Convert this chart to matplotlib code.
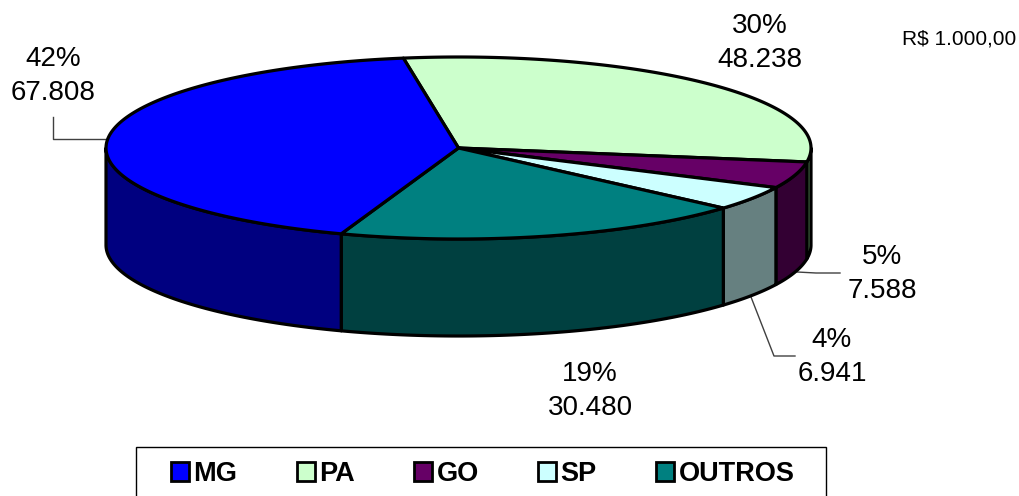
import numpy as np
import matplotlib
matplotlib.use("Agg")
import matplotlib.pyplot as plt
from matplotlib.patches import Polygon, Patch, Rectangle

categories = ["MG", "PA", "GO", "SP", "OUTROS"]
values = [67808, 48238, 7588, 6941, 30480]
percent_labels = ["42%", "30%", "5%", "4%", "19%"]
value_labels = ["67.808", "48.238", "7.588", "6.941", "30.480"]
top_colors = ["#0000FF", "#CCFFCC", "#660066", "#CCFFFF", "#008080"]
side_colors = ["#000080", "#669966", "#330033", "#668080", "#004040"]
unit_label = "R$ 1.000,00"

plt.rcParams["font.family"] = ["Liberation Sans", "DejaVu Sans"]
W, H = 1019, 496
fig = plt.figure(figsize=(W / 100, H / 100), dpi=100)
ax = fig.add_axes([0, 0, 1, 1])
ax.set_xlim(0, W)
ax.set_ylim(H, 0)
ax.axis("off")

cx, cy, rx, ry, depth = 458.5, 148, 352.5, 91, 97
start = -9.0
fractions = np.array(values) / sum(values)


def rim(t):
    r = np.radians(t)
    return cx + rx * np.sin(r), cy - ry * np.cos(r)


# angles run clockwise from the MG/PA boundary, PA first and MG last
order = [1, 2, 3, 4, 0]
angle = start
spans = {}
for i in order:
    sweep = fractions[i] * 360
    spans[i] = (angle, angle + sweep)
    angle += sweep

lw = 2.3
for i in order:
    a, b = spans[i]
    lo, hi = max(a, 90), min(b, 270)
    if hi > lo:
        t = np.linspace(lo, hi, 120)
        x, y = rim(t)
        pts = np.r_[np.c_[x, y], np.c_[x[::-1], y[::-1] + depth]]
        ax.add_patch(Polygon(pts, closed=True, fc=side_colors[i], ec="black", lw=lw, joinstyle="round", zorder=2))
for i in order:
    a, b = spans[i]
    t = np.linspace(a, b, 200)
    x, y = rim(t)
    pts = np.r_[[[cx, cy]], np.c_[x, y]]
    ax.add_patch(Polygon(pts, closed=True, fc=top_colors[i], ec="black", lw=lw, joinstyle="round", zorder=3))

label_pos = {0: (53, 76), 1: (760, 43), 2: (882, 274), 3: (832, 357), 4: (590, 391)}
for i, (lx, ly) in label_pos.items():
    ax.text(lx, ly, percent_labels[i] + "\n" + value_labels[i], ha="center", va="center",
            fontsize=20, linespacing=1.38, color="black", zorder=5)

ax.text(1016, 39, unit_label, ha="right", va="center", fontsize=15, color="black")

leader = "#404040"
ax.plot([53, 53, 107], [117, 138.5, 138.5], color=leader, lw=1, zorder=1)
ax.plot([797, 816, 840], [272, 273, 273], color=leader, lw=1, zorder=1)
ax.plot([751, 774, 795], [297, 356, 356], color=leader, lw=1, zorder=1)

ax.add_patch(Rectangle((136, 447), 690, 60, fc="white", ec="black", lw=1, zorder=4))
handles = [Patch(fc=c, ec="black", lw=2) for c in top_colors]
leg = ax.legend(handles, categories, ncol=5, loc="upper left",
                bbox_to_anchor=(171 / W, 1 - 461 / H), bbox_transform=fig.transFigure,
                frameon=False, borderaxespad=0,
                prop={"family": "Liberation Sans", "weight": "bold", "size": 19.5},
                handlelength=0.66, handleheight=0.66, handletextpad=0.16,
                columnspacing=2.2, borderpad=0, labelspacing=0)
leg.set_zorder(6)

fig.savefig("out.png", dpi=100)
